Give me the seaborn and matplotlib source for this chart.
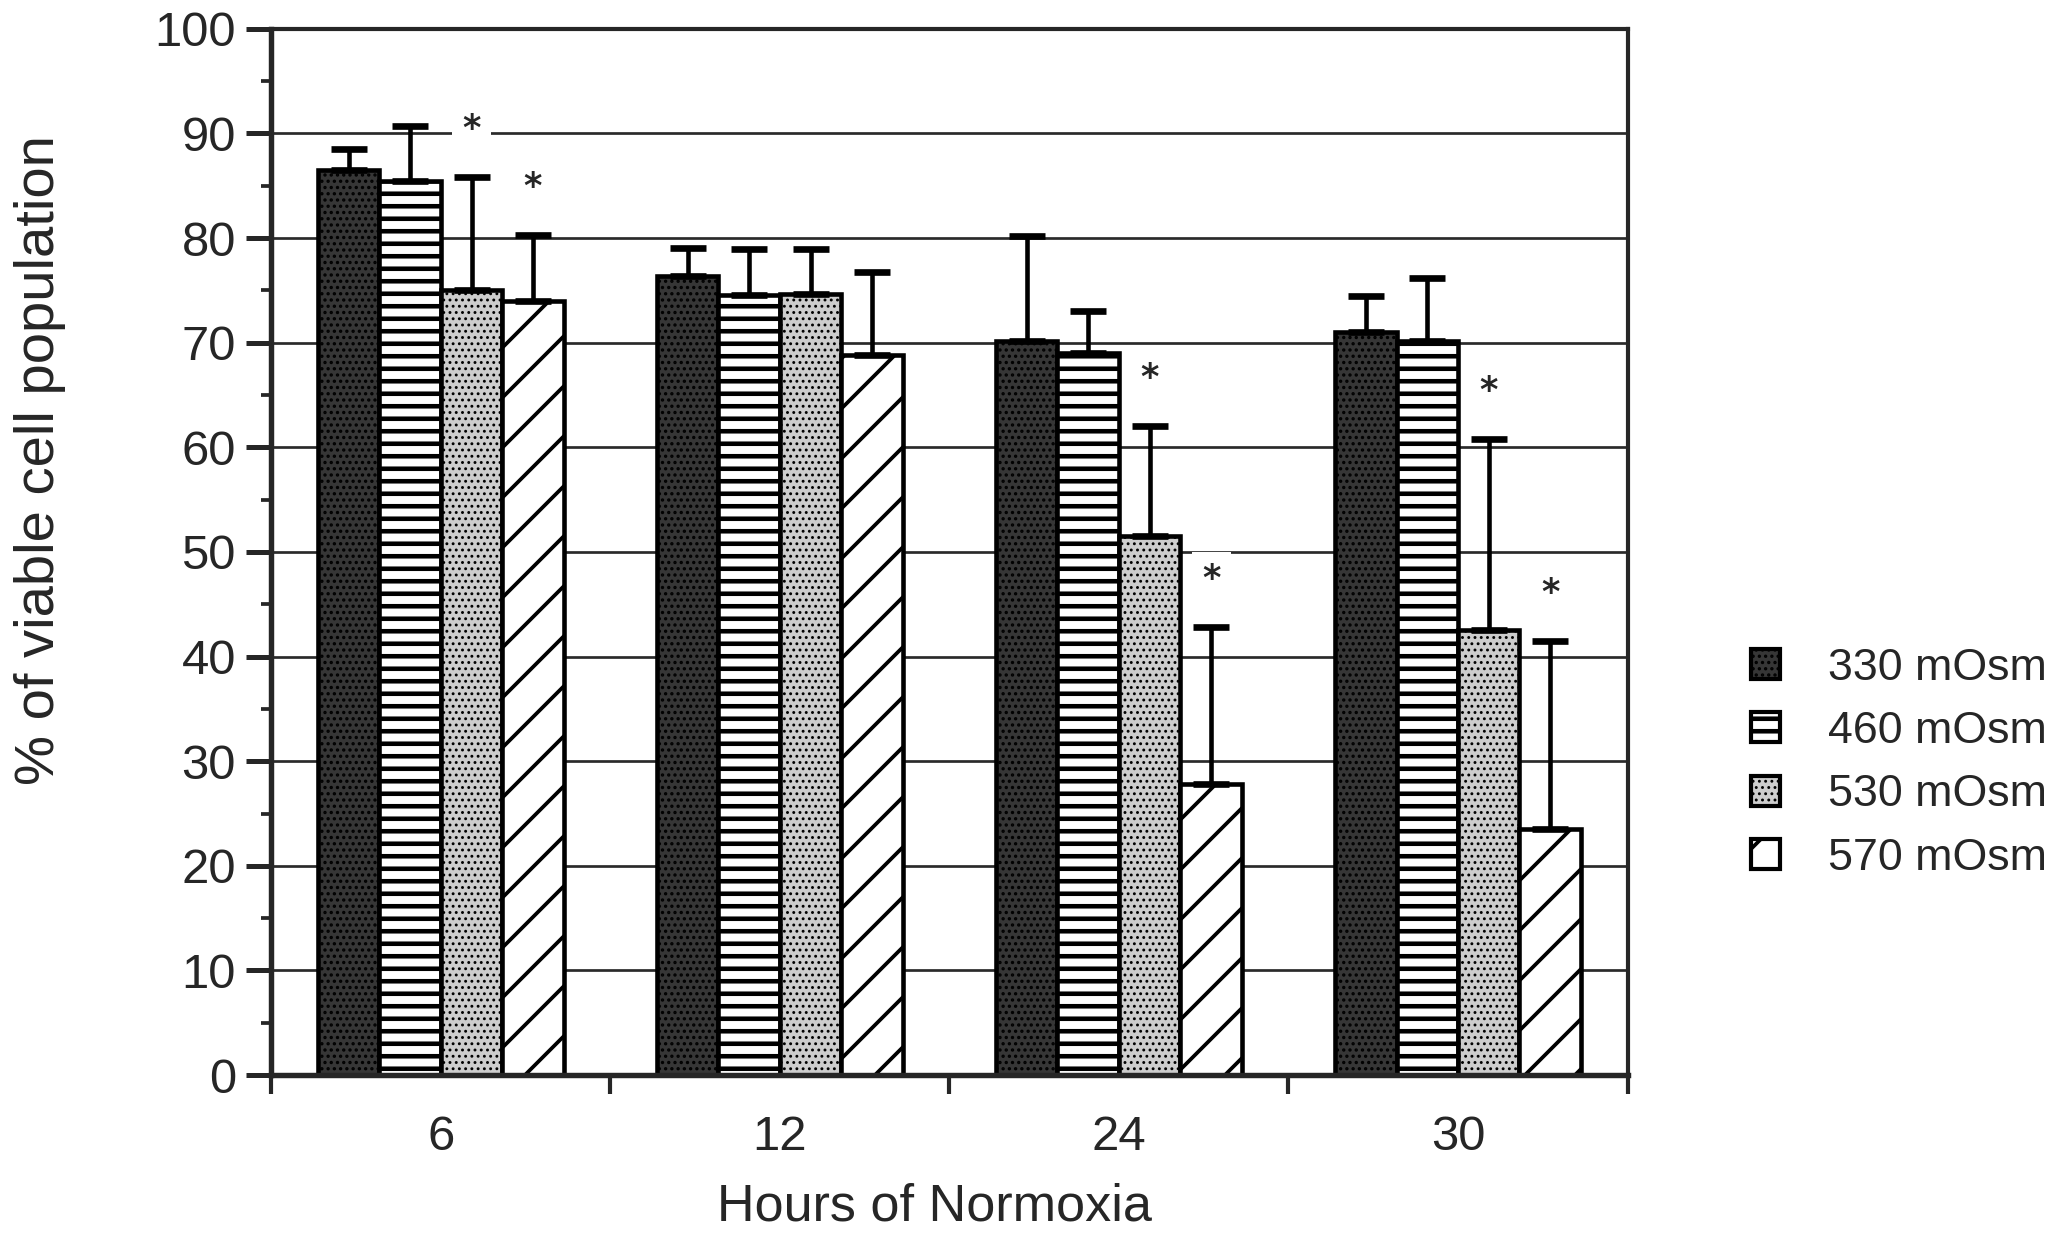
import numpy as np
import pandas as pd
import matplotlib
matplotlib.use("Agg")
import matplotlib.pyplot as plt
from matplotlib.patches import Patch
from matplotlib.ticker import MultipleLocator, FixedLocator, NullFormatter
import seaborn as sns

# Viability of cells after return to normoxia, by medium osmolarity
hours = ["6", "12", "24", "30"]
osmolarity = ["330 mOsm", "460 mOsm", "530 mOsm", "570 mOsm"]

viable_330 = [86.5, 76.4, 70.2, 71.0]
viable_460 = [85.5, 74.6, 69.0, 70.2]
viable_530 = [75.0, 74.7, 51.5, 42.5]
viable_570 = [74.0, 68.8, 27.8, 23.5]

sd_330 = [2.0, 2.7, 10.0, 3.5]
sd_460 = [5.2, 4.4, 4.0, 6.0]
sd_530 = [10.8, 4.3, 10.5, 18.3]
sd_570 = [6.3, 8.0, 15.0, 18.0]

# asterisk = significantly different from 330 mOsm at the same time point
signif_330 = [False, False, False, False]
signif_460 = [False, False, False, False]
signif_530 = [True, False, True, True]
signif_570 = [True, False, True, True]

means = [viable_330, viable_460, viable_530, viable_570]
sds = [sd_330, sd_460, sd_530, sd_570]
signif = [signif_330, signif_460, signif_530, signif_570]

df = pd.DataFrame({
    "hours": np.tile(hours, len(osmolarity)),
    "osm": np.repeat(osmolarity, len(hours)),
    "viable": np.concatenate(means),
})

sns.set_style("ticks")
plt.rcParams["font.family"] = ["Liberation Sans", "DejaVu Sans"]
plt.rcParams["hatch.linewidth"] = 1.0

# fill / hatch for each osmolarity
styles = [
    dict(face="#363636", hatch="....", hlw=1.0),
    dict(face="white", hatch="--", hlw=2.2),
    dict(face="#cdcdcd", hatch="....", hlw=0.8),
    dict(face="white", hatch="/", hlw=1.8),
]


def apply_style(patch, st):
    patch.set_facecolor(st["face"])
    patch.set_edgecolor("black")
    patch.set_hatch(st["hatch"])
    if hasattr(patch, "set_hatch_linewidth"):
        patch.set_hatch_linewidth(st["hlw"])


fig = plt.figure(figsize=(13.7, 8.26), dpi=150)
ax = fig.add_axes([0.132, 0.1323, 0.66, 0.8444])

sns.barplot(data=df, x="hours", y="viable", hue="osm", order=hours,
            hue_order=osmolarity, width=0.725, errorbar=None, legend=False,
            saturation=1, edgecolor="black", linewidth=2.2, ax=ax, zorder=2)

bar_containers = list(ax.containers)
for k, cont in enumerate(bar_containers):
    st = styles[k]
    xs, tops = [], []
    for bar in cont:
        apply_style(bar, st)
        xs.append(bar.get_x() + bar.get_width() / 2)
        tops.append(bar.get_height())
    err = np.array(sds[k])
    ax.errorbar(xs, tops, yerr=[np.zeros_like(err), err], fmt="none",
                ecolor="black", elinewidth=2.2, capsize=8.5, capthick=3.2,
                zorder=3)
    for x, t, e, s in zip(xs, tops, err, signif[k]):
        if s:
            ax.text(x, t + e + 4.6, "*", ha="center", va="center",
                    fontsize=17, fontweight="bold", family="DejaVu Sans",
                    zorder=1,
                    bbox=dict(facecolor="white", edgecolor="none", pad=5))

ax.set_ylim(0, 100)
ax.set_xlim(-0.5, 3.5)
ax.set_axisbelow(True)
ax.yaxis.grid(True, color="#2a2a2a", linewidth=1.3)

ax.yaxis.set_major_locator(MultipleLocator(10))
ax.yaxis.set_minor_locator(MultipleLocator(5))
ax.tick_params(axis="y", which="major", length=12, width=2.4,
               labelsize=23.5, pad=5)
ax.tick_params(axis="y", which="minor", length=5, width=1.8)

ax.xaxis.set_major_locator(FixedLocator([-0.5, 0.5, 1.5, 2.5, 3.5]))
ax.xaxis.set_major_formatter(NullFormatter())
ax.xaxis.set_minor_locator(FixedLocator([0, 1, 2, 3]))
ax.set_xticklabels(hours, minor=True)
ax.tick_params(axis="x", which="major", length=9, width=2.0)
ax.tick_params(axis="x", which="minor", length=0, labelsize=23.5, pad=19)

for side in ["left", "bottom"]:
    ax.spines[side].set_linewidth(2.6)
for side in ["top", "right"]:
    ax.spines[side].set_linewidth(2.0)

ax.set_ylabel("% of viable cell population", fontsize=27)
ax.yaxis.set_label_coords(-0.151, 0.588)
ax.set_xlabel("Hours of Normoxia", fontsize=25)
ax.xaxis.set_label_coords(0.489, -0.103)

handles = []
for k, st in enumerate(styles):
    h = Patch(linewidth=2.0, label=osmolarity[k])
    apply_style(h, st)
    handles.append(h)
leg = ax.legend(handles=handles, loc="center left",
                bbox_to_anchor=(0.852, 0.384), bbox_transform=fig.transFigure,
                frameon=False, fontsize=21.5, handlelength=0.65,
                handleheight=0.65, handletextpad=1.08, labelspacing=0.5,
                borderpad=0, borderaxespad=0)
for lh, st in zip(leg.legend_handles, styles):
    apply_style(lh, st)

fig.savefig("out.png", dpi=150)
